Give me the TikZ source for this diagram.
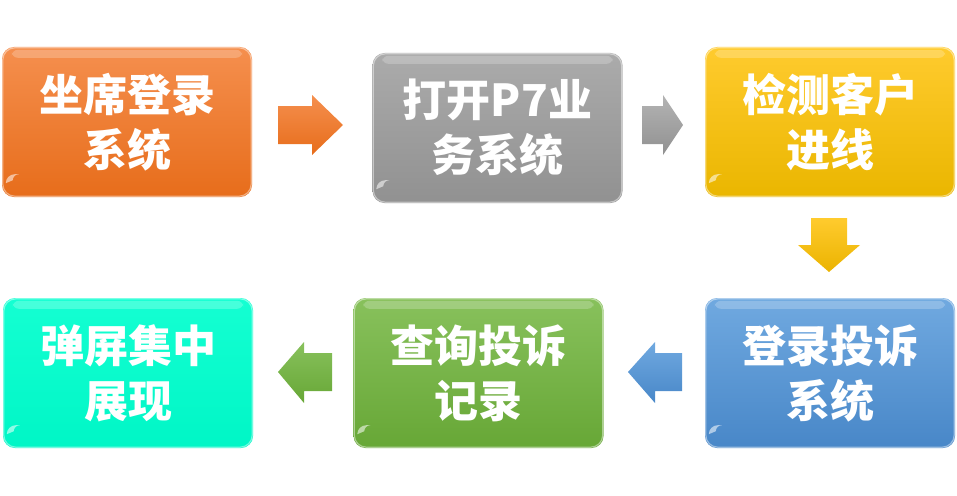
\documentclass[tikz,border=0pt]{standalone}
\usepackage{fontspec}
\newfontfamily\cjk{Noto Sans CJK SC}
\usetikzlibrary{calc}
\definecolor{oT}{HTML}{F58F4E}\definecolor{oB}{HTML}{E76D1B}
\definecolor{gT}{HTML}{ABABAB}\definecolor{gB}{HTML}{919191}
\definecolor{yT}{HTML}{FFCB2E}\definecolor{yB}{HTML}{EAB600}
\definecolor{cT}{HTML}{14FFD2}\definecolor{cB}{HTML}{00F6C6}
\definecolor{lT}{HTML}{88C15C}\definecolor{lB}{HTML}{67A736}
\definecolor{bT}{HTML}{70A9E0}\definecolor{bB}{HTML}{4887C8}
\begin{document}
\begin{tikzpicture}[x=1pt,y=-1pt,
  box/.style={rounded corners=12pt, minimum width=250pt, minimum height=150pt,
    inner sep=0pt, align=center, text=white,
    font=\cjk\bfseries\fontsize{44}{55}\selectfont},
  arr/.style={line join=miter},
  shine/.style={white, opacity=0.22, rounded corners=6pt},
  rim/.style={draw=white, draw opacity=0.45, line width=1.2pt, rounded corners=12pt},
]
\useasboundingbox (0,0) rectangle (957,495);

% boxes
\node[box, top color=oT, bottom color=oB] (b1) at (127,122) {坐席登录\\系统};
\node[box, top color=gT, bottom color=gB] (b2) at (497.5,128) {打开P7业\\务系统};
\node[box, top color=yT, bottom color=yB] (b3) at (830,122) {检测客户\\进线};
\node[box, top color=bT, bottom color=bB] (b6) at (830,373) {登录投诉\\系统};
\node[box, top color=lT, bottom color=lB] (b5) at (478.5,373) {查询投诉\\记录};
\node[box, top color=cT, bottom color=cB] (b4) at (128,373) {弹屏集中\\展现};

% glass rims and top shine
\foreach \b in {b1,b2,b3,b4,b5,b6}{
  \path[rim] ($(\b.north west)+(1,1)$) rectangle ($(\b.south east)+(-1,-1)$);
  \fill[shine] ($(\b.north west)+(10,3)$) rectangle ($(\b.north east)+(-10,11)$);
  \fill[white, opacity=0.55] ($(\b.south west)+(4,-14)$) arc[start angle=180, end angle=270, radius=9] -- ++(4,0) arc[start angle=270, end angle=180, radius=6] -- cycle;
}

% arrows
\path[arr, top color=oT, bottom color=oB] (278,106) -- (312,106) -- (312,95) -- (343,125) -- (312,155) -- (312,144) -- (278,144) -- cycle;
\path[arr, top color=gT!90, bottom color=gB] (642,106) -- (663,106) -- (663,95) -- (683,125) -- (663,155) -- (663,144) -- (642,144) -- cycle;
\path[arr, top color=yT, bottom color=yB!95!orange] (811,218) -- (847,218) -- (847,245) -- (860,245) -- (829,272) -- (798,245) -- (811,245) -- cycle;
\path[arr, top color=bT, bottom color=bB] (682,353) -- (655,353) -- (655,342) -- (628,372) -- (655,403) -- (655,391) -- (682,391) -- cycle;
\path[arr, top color=lT, bottom color=lB] (332,353) -- (304,353) -- (304,342) -- (278,372) -- (304,403) -- (304,391) -- (332,391) -- cycle;
\end{tikzpicture}
\end{document}
